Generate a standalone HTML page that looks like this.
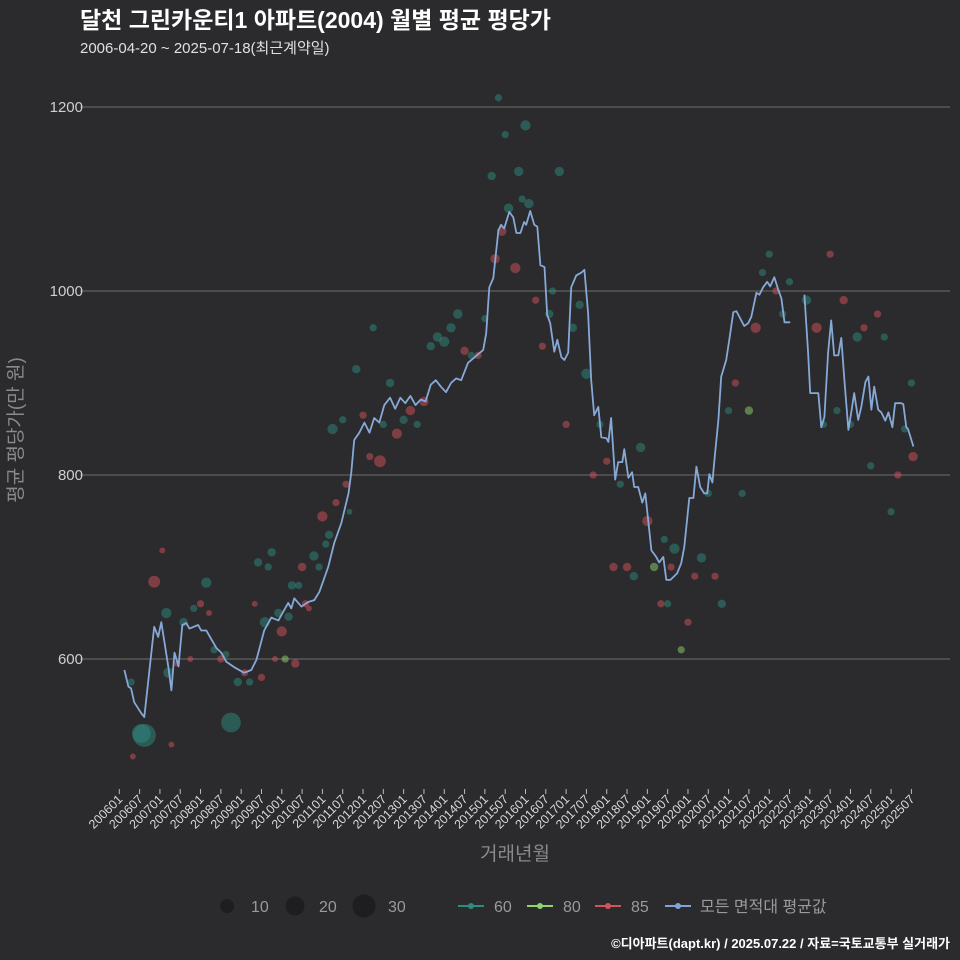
<!DOCTYPE html>
<html><head><meta charset="utf-8">
<style>
html,body{margin:0;padding:0;background:#2b2a2c;}
svg{display:block;font-family:"Liberation Sans","Noto Sans CJK KR",sans-serif;}
</style></head>
<body>
<svg id="chart" width="960" height="960" viewBox="0 0 960 960" xmlns="http://www.w3.org/2000/svg">
<rect x="0" y="0" width="960" height="960" fill="#2b2a2c"/>
<text x="80" y="28" fill="#ffffff" font-size="23" font-weight="bold">달천 그린카운티1 아파트(2004) 월별 평균 평당가</text>
<text x="80" y="53" fill="#e0e0e0" font-size="15">2006-04-20 ~ 2025-07-18(최근계약일)</text>
<g id="grid"></g>
<g id="points"></g>
<g id="avgline"></g>
<g id="xaxis"></g>
<text x="515" y="860" fill="#8a8a8a" font-size="19" text-anchor="middle">거래년월</text>
<text transform="translate(22,430) rotate(-90)" fill="#8a8a8a" font-size="19" text-anchor="middle">평균 평당가(만 원)</text>
<g>
<circle cx="227" cy="906" r="7" fill="#1e1d1f"/>
<text x="251" y="912" fill="#9a9a9a" font-size="16">10</text>
<circle cx="295" cy="906" r="9.5" fill="#1e1d1f"/>
<text x="319" y="912" fill="#9a9a9a" font-size="16">20</text>
<circle cx="364" cy="906" r="11.5" fill="#1e1d1f"/>
<text x="388" y="912" fill="#9a9a9a" font-size="16">30</text>
</g>
<g>
<g><line x1="458" y1="906" x2="484" y2="906" stroke="#2e8b80" stroke-width="2"/><circle cx="471" cy="906" r="3" fill="#2e8b80"/><text x="494" y="912" fill="#9a9a9a" font-size="16">60</text></g>
<g><line x1="527" y1="906" x2="553" y2="906" stroke="#8fd46e" stroke-width="2"/><circle cx="540" cy="906" r="3" fill="#8fd46e"/><text x="563" y="912" fill="#9a9a9a" font-size="16">80</text></g>
<g><line x1="595" y1="906" x2="621" y2="906" stroke="#d4525a" stroke-width="2"/><circle cx="608" cy="906" r="3" fill="#d4525a"/><text x="631" y="912" fill="#9a9a9a" font-size="16">85</text></g>
<g><line x1="665" y1="906" x2="691" y2="906" stroke="#7fa6d6" stroke-width="2"/><circle cx="678" cy="906" r="3" fill="#7fa6d6"/><text x="700" y="912" fill="#9a9a9a" font-size="16">모든 면적대 평균값</text></g>
</g>
<text x="950" y="948" fill="#ffffff" font-size="13" font-weight="bold" text-anchor="end">©디아파트(dapt.kr) / 2025.07.22 / 자료=국토교통부 실거래가</text>
</svg>
<script>
// y ticks
const yTicks = [600, 800, 1000, 1200];
// average line: month index from 2006-01, value (null = gap)
const avgMonths = [1.5,2.7,3.5,4.4,6.5,7.4,10.3,11.5,12.4,14.5,15.4,16.3,17.5,18.6,19.8,20.7,23.3,24.2,25.7,28.7,30.1,31.6,34,36.9,39,40.5,42.8,44.9,47,48.7,49.9,50.8,51.7,53.8,55.8,57.6,59.1,61.7,63.5,65.6,67.7,68.5,69.4,70.9,72.4,73.9,75.3,76.8,78.3,80,81.5,83,84.5,86,87.5,89,90.5,92,93.5,95,96.5,98,99.5,101,103,105,107.5,108.4,109.3,110.5,112,112.8,113.7,115.2,116.4,117.3,118.5,119.6,120.2,121.4,122.6,123.5,124.4,125.6,126.4,127.3,128.5,129.4,130.6,131.5,132.6,133.5,135,136.5,137.4,138.5,139.4,140.3,141.5,142.4,143.9,144.5,145.3,146.5,147.4,148.6,149.2,150.4,151.5,152.1,153.3,154.5,155.4,157.2,158.6,159.5,160.7,161.6,162.8,164.8,166,166.9,168.4,169.6,170.5,171.6,172.8,173.7,174.3,175.2,175.8,177,177.8,179.3,180.2,181.4,182.3,184.6,185.8,186.7,188.2,189.1,190.2,191.4,192.3,193.5,194.7,195.6,196.5,198.2,200,202.4,203.5,204.1,206.5,207.4,208.3,209.4,210.3,211.2,212.4,213.3,214.2,215.4,216.2,217.1,218.3,219.2,220.4,221.3,222.2,223,224.2,225.1,226.3,227.2,228.4,229.2,231,231.6,232.5,233,234.6];
const avgValues = [588,570,568,553,541,537,635,624,640,591,566,607,592,637,639,633,637,631,631,612,607,597,591,585,588,599,631,645,642,653,661,655,666,657,662,664,673,700,726,748,780,802,838,846,857,846,862,857,876,884,872,884,878,886,876,882,880,898,903,896,890,900,905,903,922,928,936,954,1004,1014,1066,1072,1068,1086,1080,1063,1063,1075,1072,1087,1072,1070,1028,1026,974,965,934,947,928,925,933,1004,1017,1020,1023,976,903,865,874,841,840,836,862,795,814,814,828,797,803,787,787,770,780,718,711,705,711,686,686,693,704,722,775,775,809,787,780,780,801,792,816,860,907,925,947,977,978,962,965,972,998,996,1004,1010,1005,1015,1001,992,966,966,null,996,933,889,889,852,863,933,968,930,930,949,903,849,867,889,860,874,901,907,871,896,871,868,859,868,852,878,878,877,852,850,831];
// scatter: month index, value, area type, count
const ptMonths = [7.4,6.5,3.5,4,10.3,12.7,13.9,15.4,14.5,17,19,21,22,24,25.7,26.5,28,30,31.5,33,35,37,38.5,40,41,42,43,44,45,46,47,48,49,50,51,52,53,54,55,56,57.5,59,60,61,62,63,64,66,67,68,70,72,74,75,77,78,80,82,84,86,88,90,92,94,96,98,100,102,104,106,108,110,111,112,113,114,115,117,118,119,120,121,123,125,127,128,130,132,134,136,138,140,142,144,146,148,150,152,154,156,158,160,161,162,163,164,166,168,170,172,174,176,178,180,182,184,186,188,190,192,194,196,198,203,206,208,210,212,214,216,218,220,222,224,226,228,230,232,234,234.5];
const ptValues = [517,519,575,494,684,718,650,507,585,595,640,600,655,660,683,650,610,600,605,531,575,585,575,660,705,580,640,700,716,600,650,630,600,646,680,595,680,700,660,655,712,700,755,725,735,850,770,860,790,760,915,865,820,960,815,855,900,845,860,870,855,880,940,950,945,960,975,935,930,930,970,1125,1035,1210,1065,1170,1090,1025,1130,1100,1180,1095,990,940,975,1000,1130,855,960,985,910,800,855,815,700,790,700,690,830,750,700,660,730,660,700,720,610,640,690,710,780,690,660,870,900,780,870,960,1020,1040,1000,975,1010,990,960,855,1040,870,990,855,950,960,810,975,950,760,800,850,900,820,880,860,900,875,795];
const ptTypes = [60,60,60,85,85,85,60,85,60,85,60,85,60,85,60,85,60,85,60,60,60,85,60,85,60,85,60,60,60,85,60,85,80,60,60,85,60,85,85,85,60,60,85,60,60,60,85,60,85,60,60,85,85,60,85,60,60,85,60,85,60,85,60,60,60,60,60,85,60,85,60,60,85,60,85,60,60,85,60,60,60,60,85,85,60,60,60,85,60,60,60,85,60,85,85,60,85,60,60,85,80,85,60,60,85,60,80,85,85,60,60,85,60,60,85,60,80,85,60,60,85,60,60,60,85,60,85,60,85,60,60,85,60,85,60,60,85,60,60,85,60,85,60,85,60,60,60,85];
const ptCounts = [30,20,3,2,8,2,6,2,6,2,4,2,3,3,6,2,3,3,3,22,4,3,3,2,4,3,6,3,4,2,4,6,3,4,4,4,3,4,3,2,5,3,6,3,4,6,3,3,3,2,4,3,3,3,8,3,4,6,4,5,3,5,4,5,6,5,5,4,3,3,3,4,5,3,5,3,5,6,5,3,6,5,3,3,4,3,5,3,4,4,6,3,3,3,4,3,4,4,5,6,4,3,3,3,3,6,3,3,3,5,3,3,4,3,3,3,4,6,3,3,3,3,3,5,6,3,3,3,4,3,5,3,3,3,3,3,3,3,3,5,3,6,3,5,4,3,3,3];
const xTickLabels = ["200601","200607","200701","200707","200801","200807","200901","200907","201001","201007","201101","201107","201201","201207","201301","201307","201401","201407","201501","201507","201601","201607","201701","201707","201801","201807","201901","201907","202001","202007","202101","202107","202201","202207","202301","202307","202401","202407","202501","202507"];

const NS = "http://www.w3.org/2000/svg";
const X0 = 119.3, PXM = 3.385;
function xScale(m){ return X0 + m*PXM; }
function yScale(v){ return 291 + (1000 - v)*0.92; }
function mk(tag, attrs, parent){ const e=document.createElementNS(NS,tag); for(const k in attrs) e.setAttribute(k,attrs[k]); parent.appendChild(e); return e; }

const grid = document.getElementById('grid');
yTicks.forEach(t=>{
  const l = mk('line',{x1:80,x2:950,y1:yScale(t),y2:yScale(t),stroke:'#6e6e6e','stroke-width':1},grid);
  
  
  const tx = mk('text',{x:83,y:yScale(t)+5,fill:'#cfcfcf','font-size':15,'text-anchor':'end'},grid);
  tx.textContent = t;
  
  
});

const colors = {60:'#2e8b80',80:'#8fd46e',85:'#d4525a'};
const pts = document.getElementById('points');
ptMonths.forEach((m,i)=>{
  const r = Math.sqrt(ptCounts[i])*2.1;
  const c = mk('circle',{cx:xScale(m),cy:yScale(ptValues[i]),r:r,fill:colors[ptTypes[i]],'fill-opacity':0.5},pts);
  
  
});

const lg = document.getElementById('avgline');
let segs=[], cur=[];
avgMonths.forEach((m,i)=>{
  if(avgValues[i]===null){ if(cur.length) segs.push(cur); cur=[]; }
  else cur.push(xScale(m).toFixed(1)+','+yScale(avgValues[i]).toFixed(1));
});
if(cur.length) segs.push(cur);
segs.forEach(s=>{
  const p = mk('polyline',{points:s.join(' '),fill:'none',stroke:'#86a9d8','stroke-width':1.8,'stroke-linejoin':'round'},lg);
  
  
});

const xa = document.getElementById('xaxis');
xTickLabels.forEach((lab,i)=>{
  const x = xScale(i*6);
  const t = mk('line',{x1:x,x2:x,y1:789,y2:794,stroke:'#bbbbbb','stroke-width':1},xa);
  
  
  const tx = mk('text',{transform:'translate('+(x+4)+',800) rotate(-45)',fill:'#d8d8d8','font-size':12.5,'text-anchor':'end'},xa);
  tx.textContent = lab;
  
  
});
</script>
</body></html>
